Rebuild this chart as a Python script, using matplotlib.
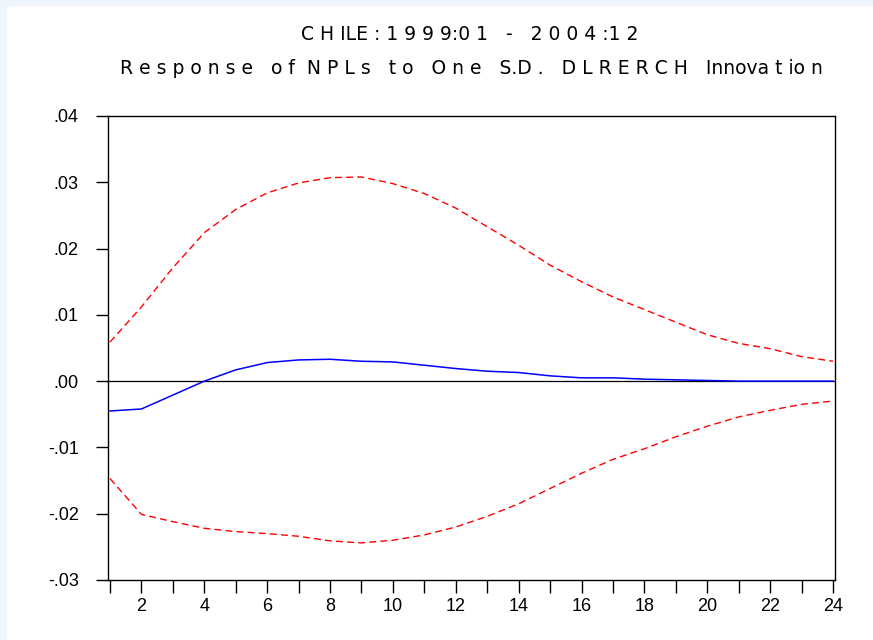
import numpy as np
import matplotlib
matplotlib.use("Agg")
import matplotlib.pyplot as plt
from matplotlib.patches import Rectangle
from matplotlib.ticker import FuncFormatter

plt.rcParams['font.family'] = ['Liberation Sans', 'DejaVu Sans']

periods = np.arange(1, 25)
response = [-0.0045, -0.0042, -0.0021, 0.0000, 0.0017, 0.0028, 0.0032, 0.0033,
            0.0030, 0.0029, 0.0024, 0.0019, 0.0015, 0.0013, 0.0008, 0.0005,
            0.0005, 0.0003, 0.0002, 0.0001, 0.0000, 0.0000, 0.0000, 0.0000]
upper = [0.0059, 0.0112, 0.0171, 0.0224, 0.0259, 0.0284, 0.0299, 0.0307,
         0.0308, 0.0298, 0.0283, 0.0261, 0.0233, 0.0205, 0.0175, 0.0150,
         0.0127, 0.0108, 0.0089, 0.0070, 0.0057, 0.0049, 0.0037, 0.0030]
lower = [-0.0147, -0.0201, -0.0212, -0.0222, -0.0227, -0.0230, -0.0234, -0.0241,
         -0.0244, -0.0240, -0.0232, -0.0220, -0.0204, -0.0185, -0.0162, -0.0139,
         -0.0118, -0.0102, -0.0084, -0.0068, -0.0054, -0.0044, -0.0035, -0.0030]

title1 = "C H ILE : 1 9 9 9:0 1   -   2 0 0 4 :1 2"
title2 = "R e s p o n s e   o f  N P L s   t o   O n e   S.D .   D L R E R C H   Innova t io n"

fig = plt.figure(figsize=(8.73, 6.40), dpi=100, facecolor="#eef5fd")
# white page area behind the chart
bg = fig.add_axes([7 / 873, 0, 1 - 7 / 873, 1 - 6 / 640], zorder=0)
bg.set_facecolor("white")
bg.axis("off")
bg.add_patch(Rectangle((0, 0), 1, 1, transform=bg.transAxes, facecolor="white", edgecolor="none"))

ax = fig.add_axes([108 / 873, 1 - 580 / 640, (835 - 108) / 873, (580 - 116) / 640], zorder=1)
ax.set_facecolor("white")

ax.axhline(0, color="black", lw=0.9)
ax.plot(periods, upper, color="red", lw=1.0, ls=(0, (5, 3)))
ax.plot(periods, lower, color="red", lw=1.0, ls=(0, (5, 3)))
ax.plot(periods, response, color="blue", lw=1.1)

ax.set_xlim(0.936, 24.064)
ax.set_ylim(-0.03, 0.04)
ax.set_yticks(np.arange(-0.03, 0.041, 0.01))
ax.yaxis.set_major_formatter(FuncFormatter(lambda v, p: ("%.2f" % v).replace("0.", ".")))
ax.set_xticks(periods)
ax.set_xticklabels([str(p) if p % 2 == 0 else "" for p in periods])

for s in ax.spines.values():
    s.set_linewidth(1.0)
ax.tick_params(axis="y", direction="out", length=9, width=1.0, pad=12, labelsize=13)
ax.tick_params(axis="x", direction="out", length=9, width=1.0, pad=4, labelsize=13)

fig.text(470 / 873, 1 - 35 / 640, title1, ha="center", va="center", fontsize=13.5,
         family="DejaVu Sans")
fig.text(471 / 873, 1 - 68 / 640, title2, ha="center", va="center", fontsize=13.5,
         family="DejaVu Sans")

fig.savefig("out.png", dpi=100, facecolor=fig.get_facecolor())
